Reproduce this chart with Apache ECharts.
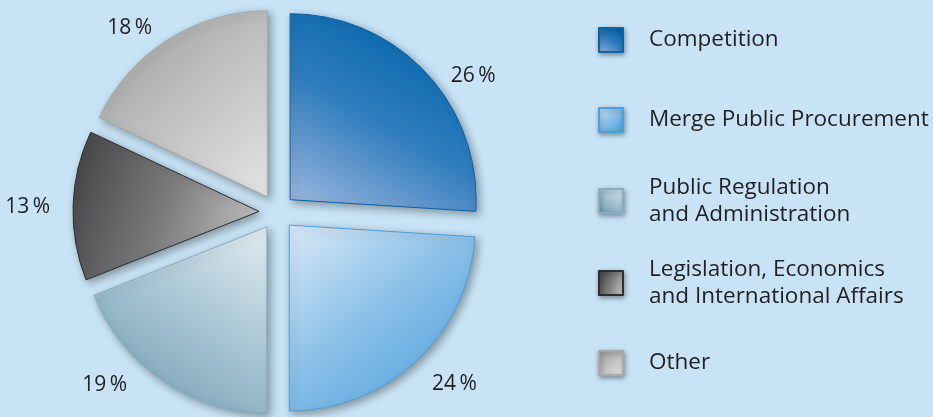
<!DOCTYPE html>
<html>
<head>
<meta charset="utf-8">
<script src="https://cdn.jsdelivr.net/npm/echarts@6/dist/echarts.min.js"></script>
<style>
  html, body { margin: 0; padding: 0; background: #c7e3f5; }
  #chart { width: 933px; height: 417px; }
</style>
</head>
<body>
<div id="chart"></div>
<script>
// Share of cases by area (percent)
const categories = [
  'Competition',
  'Merge Public Procurement',
  'Public Regulation\nand Administration',
  'Legislation, Economics\nand International Affairs',
  'Other'
];
const shares = [26, 24, 19, 13, 18];

const FONT = '"Open Sans", "Noto Sans", sans-serif';
const LINE_H = 27.5;
const grad = (x, y, x2, y2, stops) => new echarts.graphic.LinearGradient(
  x, y, x2, y2, stops.map((c, i) => ({ offset: i / (stops.length - 1), color: c })));

// Per-slice look: gradient fill and outline
const sliceStyles = [
  { color: grad(0.7, 0, 0.1, 1, ['#0066ab', '#2f7cbd', '#9ab5dd']), borderColor: '#0b62a5' },
  { color: grad(0, 0, 0.8, 1, ['#d9e9f7', '#8cc0e8', '#52a4de']), borderColor: '#4d9fdb' },
  { color: grad(1, 0, 0.3, 1, ['#e2edf2', '#a9c6d4', '#79a3b8']), borderColor: '#86adc1' },
  { color: grad(0, 0.3, 1, 0.7, ['#48484a', '#7b7b7d', '#c2c2c2']), borderColor: '#2e2e2e' },
  { color: grad(1, 1, 0, 0, ['#e4e4e4', '#c0c0c0', '#9a9a9a']), borderColor: '#a8a8a8' }
];

// Small label nudges (px) so the percentages sit clear of each slice
const labelNudge = [[7, 16], [-2, 10], [-20, -11], [0, 2], [-1, 3]];

// Vertical centre of each legend entry
const legendCenters = [40, 120, 201, 283, 363];

const chart = echarts.init(document.getElementById('chart'), null, { renderer: 'canvas' });

chart.setOption({
  backgroundColor: '#c7e3f5',
  animation: false,
  legend: categories.map((name, i) => {
    const lines = name.split('\n').length;
    return {
      data: [name],
      orient: 'vertical',
      left: 598,
      top: legendCenters[i] - (lines * LINE_H) / 2,
      padding: 0,
      itemWidth: 24,
      itemHeight: 24,
      icon: 'rect',
      selectedMode: false,
      itemStyle: {
        shadowColor: 'rgba(0,0,0,0.35)',
        shadowBlur: 5,
        shadowOffsetX: 1,
        shadowOffsetY: 2
      },
      textStyle: {
        fontFamily: FONT,
        fontSize: 22.5,
        lineHeight: LINE_H,
        color: '#231f20',
        padding: [0, 0, 0, 21]
      }
    };
  }),
  series: [{
    type: 'pie',
    center: [277, 212],
    radius: 186,
    startAngle: 90,
    clockwise: true,
    selectedMode: 'multiple',
    selectedOffset: 18,
    avoidLabelOverlap: false,
    emphasis: { disabled: true },
    label: {
      show: true,
      position: 'outside',
      formatter: p => p.value + '\u2009%',
      fontFamily: FONT,
      fontSize: 21,
      color: '#231f20'
    },
    labelLine: { show: false, length: 18, length2: 0 },
    labelLayout: p => ({ dx: labelNudge[p.dataIndex][0], dy: labelNudge[p.dataIndex][1] }),
    itemStyle: {
      borderWidth: 1,
      shadowColor: 'rgba(0,0,0,0.35)',
      shadowBlur: 8,
      shadowOffsetX: 3,
      shadowOffsetY: 3
    },
    data: categories.map((name, i) => ({
      name,
      value: shares[i],
      selected: true,
      itemStyle: sliceStyles[i]
    }))
  }]
});
</script>
</body>
</html>
